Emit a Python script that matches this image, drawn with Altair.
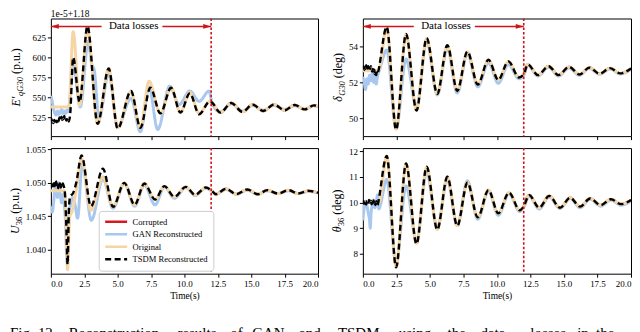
import altair as alt
import pandas as pd

SERIF = "Liberation Serif"
RED = "#d0141a"
SERIES = ["Corrupted", "GAN Reconstructed", "Original", "TSDM Reconstructed"]
COLORS = ["#d7191c", "#a8c8f0", "#f6d5a4", "#000000"]
DASHES = [[1, 0], [1, 0], [1, 0], [6, 3.5]]
WIDTHS = [2.5, 3.0, 3.0, 2.4]
X_TICKS = [0, 2.5, 5, 7.5, 10, 12.5, 15, 17.5, 20]
LOSS_END = 12.0
ARROW_GAP = [3.8, 8.35]
LOSS_LABEL_T = 6.2

# ---------------- Panel A : E'qG30 (offset 1e-5+1.18) ----------------
A_TSDM_T = [0.0, 0.05, 0.1, 0.15, 0.2, 0.25, 0.3, 0.35, 0.4, 0.45, 0.5, 0.55, 0.6, 0.65,
            0.7, 0.75, 0.8, 0.85, 0.9, 0.95, 1.0, 1.05, 1.1, 1.15, 1.2, 1.25, 1.3, 1.35,
            1.45, 1.67, 2.15, 2.74, 3.5, 4.33, 5.0, 6.0, 6.7, 7.45, 8.2, 9.0, 9.7, 10.4,
            11.1, 11.9, 12.0, 12.7, 13.5, 14.35, 15.1, 15.9, 16.7, 17.5, 18.25, 19.0, 19.7, 20.0]
A_TSDM_V = [520, 523, 519, 521, 518, 522, 520, 517, 521, 519, 523, 520, 522, 525,
            521, 524, 526, 522, 525, 523, 527, 524, 526, 521, 523, 519, 521, 520,
            530, 600, 544, 639, 517, 586, 511, 558, 512, 562, 530, 562, 531, 555,
            529, 545, 544.5, 531, 543, 532, 541, 533, 541, 534, 540.5, 535, 540, 538.5]
A_ORIG_T = [0.0, 1.35, 1.67, 2.15, 2.74, 3.5, 4.33, 5.0, 6.0, 6.7, 7.35, 8.2, 9.0, 9.7,
            10.4, 11.1, 11.9, 12.0, 12.7, 13.5, 14.35, 15.1, 15.9, 16.7, 17.5, 18.25, 19.0, 19.7, 20.0]
A_ORIG_V = [538, 538, 632, 540, 635, 517, 586, 512, 557, 512, 570, 530, 562, 531,
            556, 530, 545, 544.5, 531, 543, 532, 541, 533, 541, 534, 540.5, 535, 540, 538.5]
A_GAN_T = [0.0, 0.1, 0.2, 0.3, 0.4, 0.5, 0.6, 0.7, 0.8, 0.9, 1.0, 1.1, 1.2, 1.3, 1.4,
           1.67, 2.2, 2.8, 3.05, 3.25, 3.6, 4.33, 5.0, 6.0, 6.7, 7.35, 8.0, 8.9, 9.6,
           10.4, 11.1, 11.85, 12.05, 12.7, 13.5, 14.35, 15.1, 15.9, 16.7, 17.5, 18.25, 19.0, 19.7, 20.0]
A_GAN_V = [552, 545, 536, 530, 528, 533, 529, 531, 535, 530, 533, 530, 534, 532, 545,
           590, 538, 620, 592, 584, 523, 580, 513, 549, 507, 563, 510, 564, 541,
           558, 545, 558, 544, 532, 542, 533, 540, 534, 540, 535, 539.5, 535.5, 539.5, 538]

# ---------------- Panel B : delta G30 ----------------
B_OSC_T = [1.78, 2.48, 3.22, 4.0, 4.76, 5.55, 6.3, 7.04, 7.8, 8.57, 9.37, 10.1, 10.85,
           11.65, 12.0, 12.3, 13.06, 13.85, 14.6, 15.37, 16.16, 16.9, 17.65, 18.44, 19.18, 20.0]
B_TSDM_T = [0.0, 0.05, 0.1, 0.15, 0.2, 0.25, 0.3, 0.35, 0.4, 0.45, 0.5, 0.55, 0.6, 0.65,
            0.7, 0.75, 0.8, 0.85, 0.9, 0.95, 1.0, 1.05, 1.1, 1.15] + B_OSC_T
B_TSDM_V = [52.8, 52.9, 52.7, 52.85, 52.75, 52.95, 52.7, 52.8, 52.9, 52.65, 52.8, 52.75,
            52.9, 52.7, 52.6, 52.75, 52.55, 52.7, 52.45, 52.6, 52.4, 52.55, 52.45, 52.6,
            55.1, 49.36, 54.7, 50.43, 54.47, 51.35, 54.07, 51.52, 53.72, 51.87, 53.26, 52.13,
            53.17, 52.27, 52.45, 53.0, 52.4, 52.9, 52.4, 52.86, 52.44, 52.82, 52.48, 52.79, 52.5, 52.77]
B_ORIG_T = [0.0, 1.15] + B_OSC_T
B_ORIG_V = [52.65, 52.65,
            55.0, 49.4, 54.65, 50.45, 54.45, 51.35, 54.05, 51.55, 53.7, 51.9, 53.25, 52.15,
            53.15, 52.3, 52.45, 53.0, 52.4, 52.9, 52.4, 52.86, 52.44, 52.82, 52.48, 52.79, 52.5, 52.77]
B_GAN_T = [0.0, 0.1, 0.2, 0.3, 0.4, 0.5, 0.6, 0.7, 0.8, 0.9, 1.0, 1.1, 1.2] + B_OSC_T
B_GAN_V = [52.3, 52.0, 51.6, 52.2, 51.9, 52.4, 52.1, 52.5, 52.0, 52.3, 51.9, 52.4, 52.6,
           53.8, 49.4, 53.3, 50.6, 54.3, 51.3, 53.9, 51.4, 53.6, 51.75, 53.1, 51.95, 53.0,
           52.2, 52.4, 52.95, 52.35, 52.85, 52.35, 52.8, 52.4, 52.78, 52.45, 52.75, 52.47, 52.72]

# ---------------- Panel C : U36 ----------------
C_OSC_T = [5.5, 6.27, 7.0, 7.8, 8.5, 9.25, 10.1, 10.8, 11.6, 12.0, 12.36, 13.1, 13.9,
           14.7, 15.5, 16.2, 17.0, 17.8, 18.5, 19.3, 20.0]
C_OSC_V = [1.0500, 1.0467, 1.0499, 1.0475, 1.0495, 1.0479, 1.0494, 1.0482, 1.0493, 1.0489,
           1.0483, 1.0491, 1.0483, 1.0490, 1.0483, 1.0489, 1.0484, 1.0489, 1.0484, 1.0488, 1.0485]
C_TSDM_T = [0.0, 0.05, 0.1, 0.15, 0.2, 0.25, 0.3, 0.35, 0.4, 0.45, 0.5, 0.55, 0.6, 0.65,
            0.7, 0.75, 0.8, 0.85, 0.9, 0.95, 1.05, 1.15, 1.25, 1.35, 1.45, 1.65, 1.9,
            2.3, 3.0, 3.9, 4.65] + C_OSC_T
C_TSDM_V = [1.0498, 1.0494, 1.0501, 1.0495, 1.0499, 1.0493, 1.0500, 1.0496, 1.0502, 1.0494,
            1.0498, 1.0492, 1.0499, 1.0495, 1.0501, 1.0493, 1.0497, 1.0494, 1.0499, 1.0496,
            1.0485, 1.0440, 1.0378, 1.0460, 1.0480, 1.0484, 1.0500,
            1.0541, 1.0465, 1.0521, 1.0464] + C_OSC_V
C_ORIG_T = [0.0, 1.0, 1.1, 1.25, 1.4, 1.6, 1.9, 2.3, 3.0, 3.9, 4.65] + C_OSC_T
C_ORIG_V = [1.0488, 1.0488, 1.0470, 1.0370, 1.0448, 1.0458, 1.0490,
            1.0536, 1.0459, 1.0509, 1.0465] + C_OSC_V
C_GAN_T = [0.0, 0.1, 0.2, 0.3, 0.4, 0.5, 0.6, 0.7, 0.8, 0.9, 1.0, 1.1, 1.2, 1.35, 1.5,
           1.65, 1.8, 2.0, 2.35, 3.03, 3.9, 4.65, 5.5, 6.27, 7.0, 7.8, 8.5, 9.25, 10.1,
           10.8, 11.6, 12.0, 12.36, 13.1, 13.9, 14.7, 15.5, 16.2, 17.0, 17.8, 18.5, 19.3, 20.0]
C_GAN_V = [1.0465, 1.0456, 1.0470, 1.0490, 1.0498, 1.0478, 1.0500, 1.0485, 1.0470, 1.0482,
           1.0468, 1.0440, 1.0382, 1.0450, 1.0470, 1.0478, 1.0468, 1.0447, 1.0529, 1.0444,
           1.0506, 1.0462, 1.0499, 1.0465, 1.0497, 1.0467, 1.0494, 1.0477, 1.0493, 1.0481,
           1.0492, 1.0488, 1.0483, 1.0490, 1.0483, 1.0489, 1.0483, 1.0488, 1.0484, 1.0488,
           1.0484, 1.0487, 1.0485]

# ---------------- Panel D : theta36 ----------------
D_OSC_T = [1.78, 2.48, 3.22, 4.0, 4.76, 5.55, 6.3, 7.04, 7.8, 8.57, 9.37, 10.1, 10.9,
           11.7, 12.0, 12.4, 13.15, 13.9, 14.7, 15.46, 16.2, 16.95, 17.75, 18.5, 19.26, 20.0]
D_TSDM_T = [0.0, 0.05, 0.1, 0.15, 0.2, 0.25, 0.3, 0.35, 0.4, 0.45, 0.5, 0.55, 0.6, 0.65,
            0.7, 0.75, 0.8, 0.85, 0.9, 0.95, 1.0, 1.05, 1.1, 1.15, 1.2] + D_OSC_T
D_TSDM_V = [10.0, 10.05, 9.95, 10.08, 10.0, 9.92, 10.06, 10.02, 9.95, 10.1, 10.0, 9.97,
            10.07, 9.93, 10.04, 9.98, 10.08, 9.95, 10.03, 9.9, 10.05, 9.96, 9.9, 10.0, 10.15,
            11.82, 7.47, 11.53, 8.38, 11.4, 8.94, 11.01, 9.09, 10.78, 9.42, 10.49, 9.58, 10.39,
            9.7, 9.85, 10.29, 9.8, 10.26, 9.8, 10.19, 9.84, 10.16, 9.9, 10.13, 9.94, 10.1]
D_ORIG_T = [0.0, 1.2] + D_OSC_T
D_ORIG_V = [10.0, 10.0,
            11.8, 7.5, 11.5, 8.4, 11.38, 8.95, 11.0, 9.1, 10.78, 9.42, 10.49, 9.58, 10.39,
            9.7, 9.85, 10.29, 9.8, 10.26, 9.8, 10.19, 9.84, 10.16, 9.9, 10.13, 9.94, 10.1]
D_GAN_T = [0.0, 0.1, 0.2, 0.3, 0.4, 0.5, 0.55, 0.6, 0.7, 0.8, 0.9, 1.0, 1.1, 1.2, 1.3] + D_OSC_T
D_GAN_V = [9.3, 9.8, 10.05, 9.9, 9.6, 9.3, 9.0, 9.5, 9.9, 10.1, 9.8, 10.0, 10.3, 9.75, 9.9,
           10.9, 7.6, 10.65, 8.5, 11.2, 9.0, 10.9, 9.1, 10.85, 9.35, 10.45, 9.5, 10.35,
           9.65, 9.82, 10.25, 9.75, 10.22, 9.77, 10.16, 9.8, 10.13, 9.86, 10.1, 9.9, 10.06]

CAPTION_WORDS = ["Fig.", "12.", "Reconstruction", "results", "of", "GAN", "and", "TSDM",
                 "using", "the", "data", "losses", "in", "the"]
CAPTION_X = [8, 36, 67, 176, 229, 251, 298, 337, 398, 447, 480, 530, 577, 596]

ONE = pd.DataFrame({"a": [0]})
CW = {'E': 0.611, '′': 0.275, 'q': 0.5, 'G': 0.722, '3': 0.5, '0': 0.5, '6': 0.5, ' ': 0.25,
      '(': 0.333, ')': 0.333, 'p': 0.5, '.': 0.25, 'u': 0.5, 'd': 0.5, 'e': 0.444, 'g': 0.5,
      'δ': 0.5, 'θ': 0.5, 'U': 0.722}


def tw(s, size):
    return sum(CW.get(c, 0.5) for c in s) * size


def make_df(tt, tv, ot, ov, gt, gv):
    rows = []
    for t, v in zip(ot, ov):
        if t >= LOSS_END:
            rows.append((t, v, SERIES[0]))
    for t, v in zip(gt, gv):
        rows.append((t, v, SERIES[1]))
    for t, v in zip(ot, ov):
        rows.append((t, v, SERIES[2]))
    for t, v in zip(tt, tv):
        rows.append((t, v, SERIES[3]))
    return pd.DataFrame(rows, columns=["t", "v", "series"])


def title_layers(pieces, base_x, center_y):
    total = sum(tw(p[0], p[1]) + p[4] for p in pieces)
    y = center_y + total / 2
    out = []
    for txt, size, style, shift, gap in pieces:
        y -= gap
        out.append(alt.Chart(ONE).mark_text(
            text=txt, angle=270, align="left", baseline="alphabetic", font=SERIF,
            fontSize=size, fontStyle=style, color="black"
        ).encode(x=alt.value(base_x + shift), y=alt.value(y)))
        y -= tw(txt, size)
    return out


def panel(df, ydom, yticks, yfmt, w, h, bottom, show_legend, pieces, title_x,
          arrow=False, offset_text=None, caption=False):
    xs = alt.Scale(domain=[0, 20], nice=False, zero=False)
    ys = alt.Scale(domain=ydom, nice=False, zero=False)
    if bottom:
        xaxis = alt.Axis(values=X_TICKS, format=".1f", title="Time(s)", titlePadding=2)
    else:
        xaxis = alt.Axis(values=X_TICKS, labels=False, title=None)
    X = alt.X("t:Q", scale=xs, axis=xaxis)
    yaxis = alt.Axis(values=yticks, format=yfmt, title=None)
    cscale = alt.Scale(domain=SERIES, range=COLORS)
    dscale = alt.Scale(domain=SERIES, range=DASHES)
    if show_legend:
        leg = alt.Legend(title=None, orient="none", legendX=48, legendY=63,
                         direction="vertical", labelFont=SERIF, labelFontSize=8.6,
                         labelColor="black", symbolType="stroke", symbolSize=484,
                         symbolStrokeWidth=2.5, clipHeight=12, rowPadding=0.5,
                         padding=5, labelOffset=4, fillColor="white",
                         strokeColor="#cccccc", cornerRadius=3)
    else:
        leg = None
    layers = []
    for i, s in enumerate(SERIES):
        layers.append(
            alt.Chart(df).transform_filter(alt.datum.series == s)
            .mark_line(interpolate="monotone", strokeWidth=WIDTHS[i], clip=True)
            .encode(x=X, y=alt.Y("v:Q", scale=ys, axis=yaxis),
                    color=alt.Color("series:N", scale=cscale, legend=leg),
                    strokeDash=alt.StrokeDash("series:N", scale=dscale, legend=leg))
        )
    layers.append(
        alt.Chart(pd.DataFrame({"t": [LOSS_END]}))
        .mark_rule(color=RED, strokeDash=[2.5, 2], strokeWidth=1.6)
        .encode(x=X)
    )
    if arrow:
        seg = pd.DataFrame({"t": [0.0, ARROW_GAP[1]], "t2": [ARROW_GAP[0], LOSS_END]})
        layers.append(alt.Chart(seg).mark_rule(color=RED, strokeWidth=1.5)
                      .encode(x=X, x2="t2:Q", y=alt.value(8)))
        layers.append(alt.Chart(pd.DataFrame({"t": [0.0]}))
                      .mark_point(shape="M0,0L2,-0.6L2,0.6Z", filled=True, size=64,
                                  color=RED, opacity=1, strokeWidth=0)
                      .encode(x=X, y=alt.value(8)))
        layers.append(alt.Chart(pd.DataFrame({"t": [LOSS_END]}))
                      .mark_point(shape="M0,0L-2,-0.6L-2,0.6Z", filled=True, size=64,
                                  color=RED, opacity=1, strokeWidth=0)
                      .encode(x=X, y=alt.value(8)))
        layers.append(alt.Chart(pd.DataFrame({"t": [LOSS_LABEL_T]}))
                      .mark_text(text="Data losses", font=SERIF, fontSize=11,
                                 baseline="middle", color="black")
                      .encode(x=X, y=alt.value(8)))
    if offset_text:
        layers.append(alt.Chart(ONE).mark_text(
            text=offset_text, align="left", baseline="alphabetic", font=SERIF,
            fontSize=9.5, color="black").encode(x=alt.value(0), y=alt.value(-1.5)))
    layers += title_layers(pieces, title_x, h / 2)
    if caption:
        for wd, px in zip(CAPTION_WORDS, CAPTION_X):
            layers.append(alt.Chart(ONE).mark_text(
                text=wd, align="left", baseline="top", font=SERIF, fontSize=15,
                color="black").encode(x=alt.value(px - 49), y=alt.value(179)))
    return alt.layer(*layers).properties(width=w, height=h)


dfA = make_df(A_TSDM_T, A_TSDM_V, A_ORIG_T, A_ORIG_V, A_GAN_T, A_GAN_V)
dfB = make_df(B_TSDM_T, B_TSDM_V, B_ORIG_T, B_ORIG_V, B_GAN_T, B_GAN_V)
dfC = make_df(C_TSDM_T, C_TSDM_V, C_ORIG_T, C_ORIG_V, C_GAN_T, C_GAN_V)
dfD = make_df(D_TSDM_T, D_TSDM_V, D_ORIG_T, D_ORIG_V, D_GAN_T, D_GAN_V)

TOP_H = 118
BOT_H = 126

pA = panel(dfA, [501.7, 648.3], [525, 550, 575, 600, 625], "d", 268, TOP_H, False, False,
           [("E′", 12, "italic", 0, 0), ("qG30", 8.5, "italic", 3, 0), ("(p.u.)", 12, "normal", 0, 3)],
           -31, arrow=True, offset_text="1e-5+1.18")
pB = panel(dfB, [49.0, 55.56], [50, 52, 54], "d", 269, TOP_H, False, False,
           [("δ", 12, "italic", 0, 0), ("G30", 8.5, "italic", 3, 0), ("(deg)", 12, "normal", 0, 3)],
           -21, arrow=True)
pC = panel(dfC, [1.0364, 1.0552], [1.040, 1.045, 1.050, 1.055], ".3f", 268, BOT_H, True, True,
           [("U", 12, "italic", 0, 0), ("36", 8.5, "normal", 3, 0), ("(p.u.)", 12, "normal", 0, 3)],
           -32, caption=True)
pD = panel(dfD, [7.22, 12.13], [8, 9, 10, 11, 12], "d", 269, BOT_H, True, False,
           [("θ", 12, "italic", 0, 0), ("36", 8.5, "normal", 3, 0), ("(deg)", 12, "normal", 0, 3)],
           -21.5)

chart = alt.concat(
    pA, pB, pC, pD, columns=2, spacing={"row": 12, "column": 45}, bounds="flush"
).resolve_scale(
    color="independent", strokeDash="independent"
).properties(
    padding={"left": 0, "top": 0, "right": 0, "bottom": 0}
).configure_view(
    stroke="black", strokeWidth=1
).configure_axis(
    domain=False, grid=False, tickColor="black", tickSize=3.5, tickWidth=1,
    labelFont=SERIF, labelFontSize=9, labelColor="black", labelPadding=2,
    titleFont=SERIF, titleFontSize=9.5, titleColor="black", titleFontWeight="normal"
)

chart.save("out.html", embed_options={"renderer": "svg", "actions": False})
